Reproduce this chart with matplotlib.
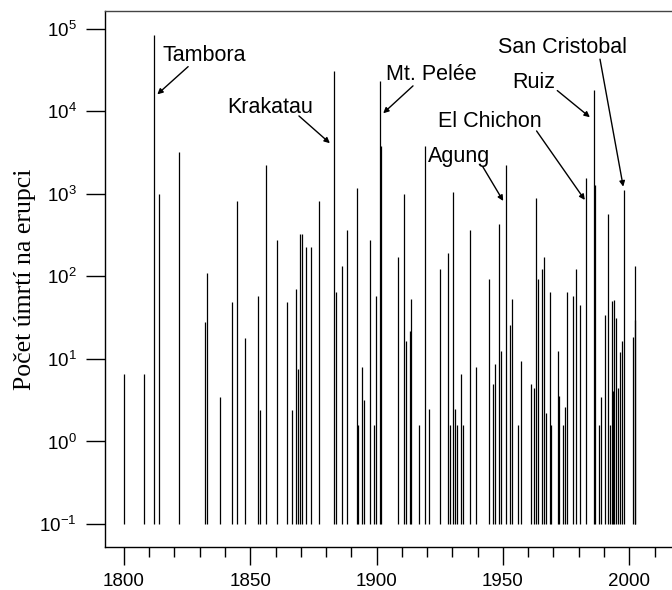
import matplotlib
matplotlib.use("Agg")
import matplotlib.pyplot as plt
from matplotlib.ticker import MultipleLocator, NullLocator

plt.rcParams["font.family"] = ["Liberation Sans", "DejaVu Sans"]
plt.rcParams["mathtext.fontset"] = "custom"
plt.rcParams["mathtext.rm"] = "Liberation Sans"
plt.rcParams["mathtext.it"] = "Liberation Sans:italic"

# === Data: eruption year and deaths per eruption ===
years = [1800, 1808, 1812, 1814, 1821.6, 1832, 1832.8, 1838, 1842.6, 1844.7,
         1848, 1853, 1853.8, 1856.1, 1860.6, 1864.4, 1866.5, 1867.9, 1868.9, 1869.5,
         1870.3, 1871.9, 1874, 1877.2, 1883.2, 1883.8, 1886.1, 1888.4, 1892.1, 1892.7,
         1894.3, 1895, 1897.3, 1898.8, 1899.6, 1901.2, 1901.8, 1908.6, 1910.8, 1911.5,
         1913.1, 1913.8, 1916.7, 1919, 1920.6, 1925.2, 1928.1, 1928.9, 1930.2, 1931,
         1931.8, 1933.4, 1934, 1937, 1939.3, 1944.4, 1946, 1946.8, 1948.3, 1949.1,
         1951.3, 1952.7, 1953.5, 1955.8, 1957.2, 1960.9, 1962.4, 1963.2, 1964, 1965.5,
         1966.3, 1967, 1968.6, 1969.2, 1971.6, 1972.2, 1973.7, 1974.5, 1975.3, 1977.6,
         1979, 1980.5, 1982.8, 1985.9, 1986.5, 1988, 1988.8, 1990.2, 1991.7, 1992.5,
         1993.1, 1993.6, 1993.9, 1994.6, 1995.4, 1996.2, 1997, 1998, 2001.3, 2002.1,
         2002.3]
deaths = [6.6, 6.6, 85000, 1000, 3200, 28, 110, 3.5, 49, 820,
          18, 58, 2.4, 2240, 277, 49, 2.4, 70, 7.5, 330,
          330, 225, 225, 820, 31000, 64, 134, 366, 1170, 1.6,
          7.9, 3.2, 277, 1.6, 58, 23650, 3850, 174, 1000, 16.5,
          22, 53, 1.6, 3850, 2.5, 122, 191, 1.6, 1066, 2.5,
          1.6, 6.6, 1.6, 366, 7.9, 92, 5.0, 8.7, 433, 12.5,
          2240, 26, 53, 1.6, 9.5, 5.0, 4.5, 885, 92, 122,
          174, 2.2, 64, 1.6, 12.5, 3.6, 1.6, 2.6, 64, 58,
          122, 45, 1550, 18300, 1285, 1.6, 3.5, 34, 573, 1.6,
          50, 4.1, 52, 31, 4.5, 12.3, 16.5, 1117, 18.6, 132,
          30]
baseline = 0.1

# === Labelled eruptions: text anchor, arrow tail, arrow head (data coords) ===
labels = ["Tambora", "Krakatau", "Mt. Pelée", "El Chichon", "Agung", "Ruiz", "San Cristobal"]
label_pos = [(1815.4, 41300), (1840.8, 9690), (1903.7, 24100), (1924.3, 6550),
             (1920.2, 2460), (1953.8, 19100), (1948.1, 50700)]
arrow_tail = [(1825.4, 34900), (1869.25, 8820), (1914.4, 20400), (1963.3, 5800),
              (1942.0, 2140), (1971.5, 17900), (1988.4, 43000)]
arrow_head = [(1813.2, 16100), (1881.5, 4120), (1902.6, 9500), (1982.4, 845),
              (1950.1, 822), (1984.4, 8510), (1997.6, 1225)]

# === Plot ===
fig = plt.figure(figsize=(6.72, 5.9), dpi=100)
ax = fig.add_axes([0.15625, 0.0729, 0.84375, 0.9085])

ax.vlines(years, baseline, deaths, color="black", linewidth=0.9)

ax.set_yscale("log")
ax.set_ylim(0.0526, 165000)
ax.set_xlim(1792.5, 2016.9)

ax.set_yticks([1e-1, 1e0, 1e1, 1e2, 1e3, 1e4, 1e5])
ax.yaxis.set_minor_locator(NullLocator())
ax.xaxis.set_major_locator(MultipleLocator(50))
ax.xaxis.set_minor_locator(MultipleLocator(10))

ax.tick_params(axis="both", which="major", direction="out", labelsize=13.5, width=1.0)
ax.tick_params(axis="x", which="major", length=13, pad=6)
ax.tick_params(axis="x", which="minor", direction="out", length=7.5, width=1.0)
ax.tick_params(axis="y", which="major", length=13.5, pad=7)

for side in ["left", "bottom", "top"]:
    ax.spines[side].set_linewidth(1.0)
ax.spines["top"].set_color("#444444")
ax.spines["right"].set_visible(False)

ax.set_ylabel("Počet úmrtí na erupci", family=["Liberation Serif", "DejaVu Serif"],
              fontsize=18.5)
ax.yaxis.set_label_coords(-0.122, 0.5)

for name, pos, tail, head in zip(labels, label_pos, arrow_tail, arrow_head):
    ax.text(pos[0], pos[1], name, fontsize=15.5, ha="left", va="baseline")
    ax.annotate("", xy=head, xytext=tail,
                arrowprops=dict(arrowstyle="-|>", color="black", lw=1.0,
                                mutation_scale=8, shrinkA=0, shrinkB=0))

fig.savefig("out.png", dpi=100)
plt.close(fig)
